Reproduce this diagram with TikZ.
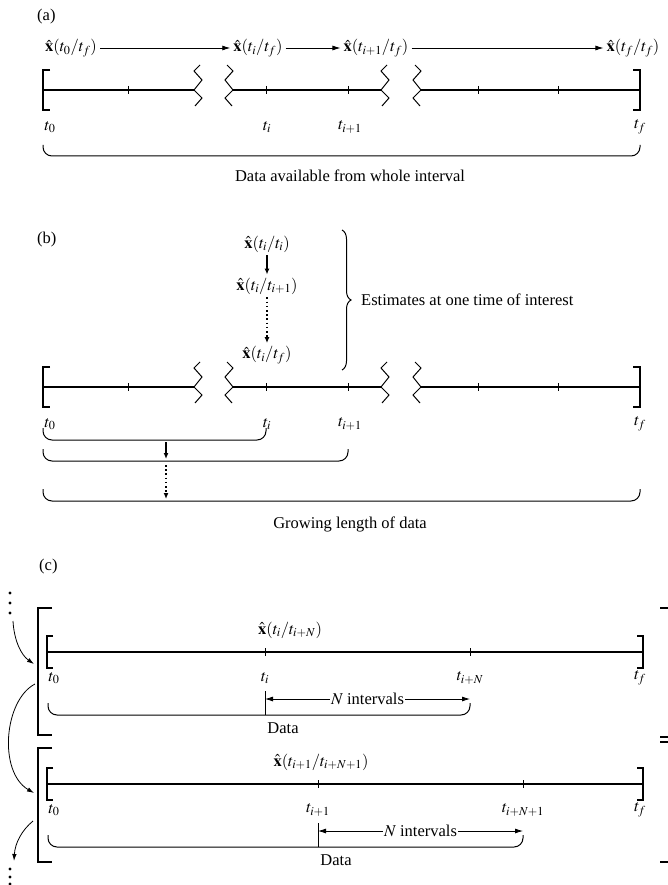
\documentclass[tikz,border=0pt]{standalone}
\usepackage{mathptmx}
\usepackage[no-math]{fontspec}
\setmainfont{Liberation Serif}
\usetikzlibrary{arrows.meta, positioning, decorations.pathreplacing}

\newcommand{\xhat}{\hat{\mathbf{x}}}

\begin{document}
\begin{tikzpicture}[
    x=1pt, y=-1pt,
    every node/.style={font=\fontsize{16.5}{19}\selectfont, inner sep=1pt},
    axis/.style={line width=1.3pt},
    endbar/.style={line width=2pt},
    tick/.style={line width=0.9pt},
    zig/.style={line width=1pt},
    est/.style={inner sep=3pt},
    fwd/.style={-{Latex[length=8pt, width=5pt]}, line width=0.8pt},
    short/.style={-{Latex[length=6pt, width=5pt]}, line width=1.2pt},
    dotarrow/.style={-{Latex[length=6pt, width=5pt]}, line width=1.8pt,
        dash pattern=on 1.6pt off 2.6pt},
    databrace/.style={rounded corners=9pt, line width=1pt},
    curv/.style={-{Latex[length=7pt, width=4.5pt]}, line width=0.8pt}
]
\useasboundingbox (0,0) rectangle (668,885);

% --- (a) whole interval ---
\node[anchor=west] (pa) at (36,17) {(a)};
\node[est] (e0) at (71,48) {$\xhat(t_0/t_f)$};
\node[est] (ei) at (258,48) {$\xhat(t_i/t_f)$};
\node[est] (ei1) at (376,48) {$\xhat(t_{i+1}/t_f)$};
\node[est] (ef) at (633,48) {$\xhat(t_f/t_f)$};
\foreach \a/\b in {e0/ei, ei/ei1, ei1/ef}
    \draw[fwd] (\a) -- (\b);

% broken time axes for (a) and (b)
\foreach \yy/\p in {90/a, 387/b} {
    \draw[endbar] (50,\yy-20) -- (43,\yy-20) -- (43,\yy+20) -- (50,\yy+20);
    \draw[endbar] (633,\yy-20) -- (640,\yy-20) -- (640,\yy+20) -- (633,\yy+20);
    \draw[axis] (43,\yy) -- (194,\yy) (233,\yy) -- (381,\yy) (421,\yy) -- (640,\yy);
    \foreach \xx in {128, 266, 348, 478, 558}
        \draw[tick] (\xx,\yy-4) -- (\xx,\yy+4);
    \foreach \xx in {194, 381}
        \draw[zig] (\xx,\yy) ++(6,-25) -- ++(-6,6) -- ++(8,9) -- ++(-8,10)
            -- ++(8,8) -- ++(-7,8);
    \foreach \xx in {233, 421}
        \draw[zig] (\xx,\yy) ++(-6,-25) -- ++(6,6) -- ++(-8,9) -- ++(8,10)
            -- ++(-8,8) -- ++(7,8);
    \node (t0\p) at (50,\yy+37) {$t_0$};
    \node (ti\p) at (267,\yy+37) {$t_i$};
    \node (tii\p) at (350,\yy+37) {$t_{i+1}$};
    \node (tf\p) at (640,\yy+37) {$t_f$};
}

\draw[databrace] (43,145) -- (43,156) -- (640,156) -- (640,145);
\node (whole) at (350,176) {Data available from whole interval};

% --- (b) filtering / growing data ---
\node[anchor=west] (pb) at (36,240) {(b)};
\node[est] (bi) at (267,244) {$\xhat(t_i/t_i)$};
\node[est] (bi1) at (267,286) {$\xhat(t_i/t_{i+1})$};
\node[est] (bf) at (267,355) {$\xhat(t_i/t_f)$};
\draw[short] (bi) -- (bi1);
\draw[dotarrow] (bi1) -- (bf);

\draw[decorate, decoration={brace, amplitude=9pt}, line width=1pt]
    (342,230) -- (342,370);
\node[anchor=west] (interest) at (360,300) {Estimates at one time of interest};

\draw[databrace] (43,428) -- (43,440) -- (266,440) -- (266,428);
\draw[databrace] (43,449) -- (43,461) -- (348,461) -- (348,449);
\draw[databrace] (43,489) -- (43,501) -- (640,501) -- (640,489);
\coordinate (g1) at (166,442);
\coordinate (g2) at (166,459);
\coordinate (g3) at (166,465);
\coordinate (g4) at (166,499);
\draw[short] (g1) -- (g2);
\draw[dotarrow] (g3) -- (g4);
\node (growing) at (350,524) {Growing length of data};

% --- (c) fixed-lag windows ---
\node[anchor=west] (pc) at (38,567) {(c)};
\draw[endbar] (52,608) -- (38,608) -- (38,735) -- (52,735);
\draw[endbar] (52,748) -- (38,748) -- (38,862) -- (52,862);
\foreach \yy in {608, 737, 742, 862}
    \draw[endbar] (660,\yy) -- (668,\yy);

\node (xc) at (290,630) {$\xhat(t_i/t_{i+N})$};
\node (xd) at (321,762) {$\xhat(t_{i+1}/t_{i+N+1})$};

\foreach \yy/\p/\xa/\xb/\la/\lb in
    {652/c/265/470/{t_i}/{t_{i+N}}, 784/d/318/523/{t_{i+1}}/{t_{i+N+1}}} {
    \draw[endbar] (53,\yy-16) -- (47,\yy-16) -- (47,\yy+16) -- (53,\yy+16);
    \draw[endbar] (637,\yy-16) -- (643,\yy-16) -- (643,\yy+16) -- (637,\yy+16);
    \draw[axis] (47,\yy) -- (643,\yy);
    \foreach \xx in {\xa, \xb}
        \draw[tick] (\xx,\yy-4) -- (\xx,\yy+4);
    \node (t0\p) at (54,\yy+26) {$t_0$};
    \node (ta\p) at (\xa,\yy+26) {$\la$};
    \node (tb\p) at (\xb,\yy+26) {$\lb$};
    \node (tf\p) at (640,\yy+26) {$t_f$};
    % lag arrows and data window
    \node (nint\p) at ({(\xa+\xb)/2},\yy+47) {$N$ intervals};
    \coordinate (la\p) at (\xa,\yy+47);
    \coordinate (lb\p) at (\xb,\yy+47);
    \draw[fwd] (nint\p) -- (la\p);
    \draw[fwd] (nint\p) -- (lb\p);
    \draw[line width=1pt] (\xa,\yy+39) -- (\xa,\yy+63);
    \draw[databrace] (48,\yy+51) -- (48,\yy+63) -- (\xb,\yy+63) -- (\xb,\yy+51);
    \node (data\p) at (\xa+18,\yy+76) {Data};
}

% left-hand continuation arrows
\foreach \yy in {593, 603, 613}
    \fill (10,\yy) circle (1.7pt);
\foreach \yy in {869, 877, 884}
    \fill (10,\yy) circle (1.7pt);
\coordinate (in1) at (13,621);
\coordinate (in2) at (34,664);
\coordinate (mid1) at (35,684);
\coordinate (mid2) at (34,793);
\coordinate (out1) at (33,821);
\coordinate (out2) at (14,861);
\draw[curv] (in1) .. controls (14,640) and (21,655) .. (in2);
\draw[curv] (mid1) .. controls (4,700) and (-2,772) .. (mid2);
\draw[curv] (out1) .. controls (22,830) and (15,843) .. (out2);

\end{tikzpicture}
\end{document}
